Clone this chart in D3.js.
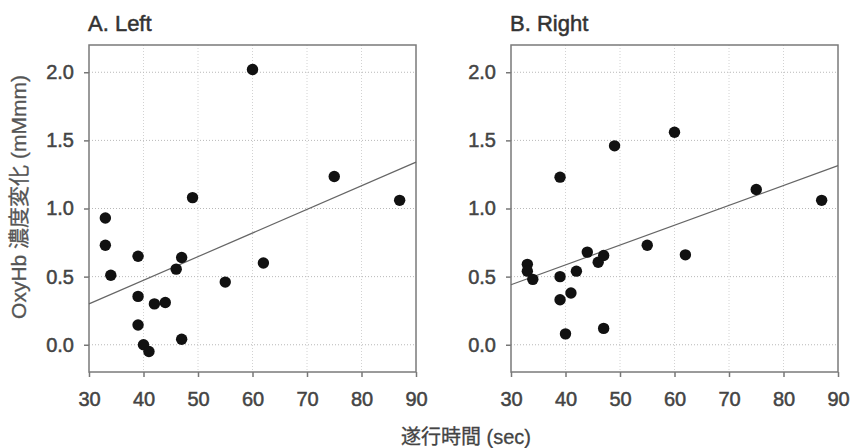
<!DOCTYPE html>
<html>
<head>
<meta charset="utf-8">
<script src="https://cdn.jsdelivr.net/npm/d3@7"></script>
<style>
  body { margin: 0; background: #fff; }
  svg { display: block; }
</style>
</head>
<body>
<svg id="chart"></svg>
<script>
// 遂行時間 (sec) - same subjects in both panels
const timeSec = [33, 33, 34, 39, 39, 39, 40, 41, 42, 44, 46, 47, 47, 49, 55, 60, 62, 75, 87];
const oxyLeft = [0.93, 0.73, 0.51, 0.65, 0.355, 0.145, 0.0, -0.05, 0.30, 0.31, 0.555, 0.64, 0.04, 1.08, 0.46, 2.02, 0.60, 1.235, 1.06];
const oxyRight = [0.59, 0.54, 0.48, 0.50, 0.33, 1.23, 0.08, 0.38, 0.54, 0.68, 0.605, 0.655, 0.12, 1.46, 0.73, 1.56, 0.66, 1.14, 1.06];
const fitLeft = [[30, 0.30], [90, 1.34]];
const fitRight = [[30, 0.44], [90, 1.315]];

const xTicks = [30, 40, 50, 60, 70, 80, 90];
const yTicks = [0, 0.5, 1.0, 1.5, 2.0];
const panelTitles = ["A. Left", "B. Right"];
const xLabel = "遂行時間 (sec)";
const yLabel = "OxyHb 濃度変化 (mMmm)";

const width = 850, height = 448;
const font = "Arial, 'Liberation Sans', 'Noto Sans CJK JP', sans-serif";

const svg = d3.select("#chart").attr("width", width).attr("height", height);

const panels = [
  { left: 89, title: panelTitles[0], ys: oxyLeft, fit: fitLeft },
  { left: 511, title: panelTitles[1], ys: oxyRight, fit: fitRight }
];
const pw = 327, plotTop = 45, plotBottom = 372;

panels.forEach((p) => {
  const x = d3.scaleLinear().domain([30, 90]).range([p.left, p.left + pw]);
  const y = d3.scaleLinear().domain([-0.2, 2.2]).range([plotBottom, plotTop]);
  const g = svg.append("g");

  // grille en pointillés
  g.selectAll(".vgrid")
    .data(xTicks.slice(1, -1))
    .join("line")
    .attr("class", "vgrid")
    .attr("x1", (d) => x(d)).attr("x2", (d) => x(d))
    .attr("y1", plotTop).attr("y2", plotBottom)
    .attr("stroke", "#d2d2d2")
    .attr("stroke-dasharray", "1,2");
  g.selectAll(".hgrid")
    .data(yTicks)
    .join("line")
    .attr("class", "hgrid")
    .attr("x1", p.left).attr("x2", p.left + pw)
    .attr("y1", (d) => y(d)).attr("y2", (d) => y(d))
    .attr("stroke", "#b8b8b8")
    .attr("stroke-dasharray", "1,2");

  // axes
  const xAxis = g.append("g")
    .attr("transform", `translate(0,${plotBottom})`)
    .call(d3.axisBottom(x).tickValues(xTicks).tickSize(5).tickPadding(15).tickSizeOuter(0));
  const yAxis = g.append("g")
    .attr("transform", `translate(${p.left},0)`)
    .call(d3.axisLeft(y).tickValues(yTicks).tickFormat(d3.format(".1f")).tickSize(5).tickPadding(10).tickSizeOuter(0));
  [xAxis, yAxis].forEach((a) => {
    a.select(".domain").remove();
    a.selectAll("line").attr("stroke", "#777").attr("stroke-width", 1.5);
    a.selectAll("text")
      .attr("fill", "#444")
      .attr("stroke", "#444")
      .attr("stroke-width", 0.5)
      .style("font-family", font)
      .style("font-size", "20px");
  });

  // cadre
  g.append("rect")
    .attr("x", p.left).attr("y", plotTop)
    .attr("width", pw).attr("height", plotBottom - plotTop)
    .attr("fill", "none")
    .attr("stroke", "#7a7a7a")
    .attr("stroke-width", 1.5);

  // droite de régression
  g.append("line")
    .attr("x1", x(p.fit[0][0])).attr("y1", y(p.fit[0][1]))
    .attr("x2", x(p.fit[1][0])).attr("y2", y(p.fit[1][1]))
    .attr("stroke", "#666")
    .attr("stroke-width", 1.2);

  // points
  g.selectAll("circle")
    .data(timeSec.map((t, i) => [t, p.ys[i]]))
    .join("circle")
    .attr("cx", (d) => x(d[0]))
    .attr("cy", (d) => y(d[1]))
    .attr("r", 5.7)
    .attr("fill", "#111");

  g.append("text")
    .text(p.title)
    .attr("x", p.left - 1)
    .attr("y", 31)
    .attr("fill", "#333")
    .attr("stroke", "#333")
    .attr("stroke-width", 0.5)
    .style("font-family", font)
    .style("font-size", "22px");
});

svg.append("text")
  .text(xLabel)
  .attr("x", 466)
  .attr("y", 444)
  .attr("text-anchor", "middle")
  .attr("fill", "#444")
  .attr("stroke", "#444")
  .attr("stroke-width", 0.3)
  .style("font-family", font)
  .style("font-size", "20px");

svg.append("text")
  .text(yLabel)
  .attr("transform", "translate(26,197) rotate(-90)")
  .attr("text-anchor", "middle")
  .attr("fill", "#555")
  .attr("stroke", "#555")
  .attr("stroke-width", 0.3)
  .style("font-family", font)
  .style("font-size", "21px");
</script>
</body>
</html>
